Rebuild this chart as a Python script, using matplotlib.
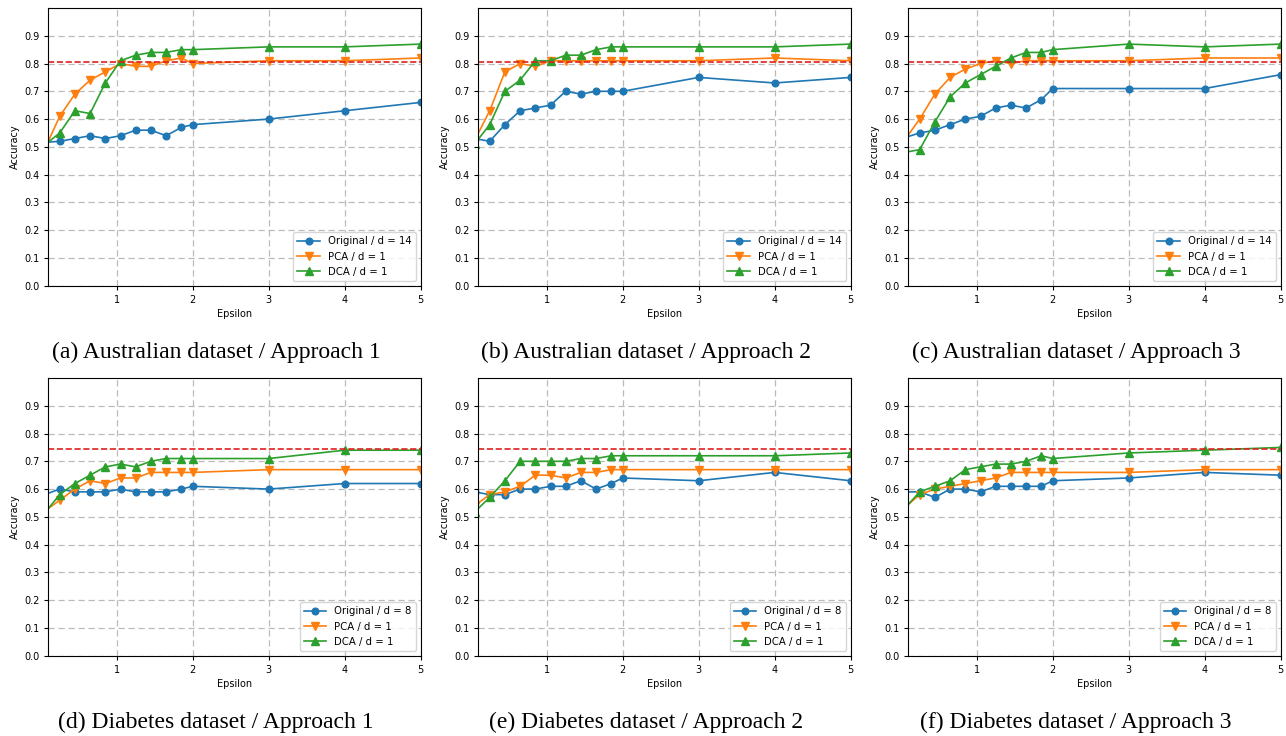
import matplotlib
matplotlib.use('Agg')
from matplotlib import pyplot as plt

# epsilon values (first one falls left of the visible x range)
eps = [0.05, 0.25, 0.45, 0.65, 0.85, 1.05, 1.25, 1.45, 1.65, 1.85, 2, 3, 4, 5]

# Australian dataset
aus1_orig = [0.516, 0.52, 0.53, 0.54, 0.53, 0.54, 0.56, 0.56, 0.54, 0.57, 0.58, 0.60, 0.63, 0.66]
aus1_pca = [0.49, 0.61, 0.69, 0.74, 0.77, 0.80, 0.79, 0.79, 0.81, 0.82, 0.80, 0.81, 0.81, 0.82]
aus1_dca = [0.506, 0.55, 0.63, 0.62, 0.73, 0.81, 0.83, 0.84, 0.84, 0.85, 0.85, 0.86, 0.86, 0.87]

aus2_orig = [0.53, 0.52, 0.58, 0.63, 0.64, 0.65, 0.70, 0.69, 0.70, 0.70, 0.70, 0.75, 0.73, 0.75]
aus2_pca = [0.522, 0.63, 0.77, 0.80, 0.79, 0.81, 0.81, 0.81, 0.81, 0.81, 0.81, 0.81, 0.82, 0.81]
aus2_dca = [0.51, 0.58, 0.70, 0.74, 0.81, 0.81, 0.83, 0.83, 0.85, 0.86, 0.86, 0.86, 0.86, 0.87]

aus3_orig = [0.533, 0.55, 0.56, 0.58, 0.60, 0.61, 0.64, 0.65, 0.64, 0.67, 0.71, 0.71, 0.71, 0.76]
aus3_pca = [0.524, 0.60, 0.69, 0.75, 0.78, 0.80, 0.81, 0.80, 0.81, 0.81, 0.81, 0.81, 0.82, 0.82]
aus3_dca = [0.48, 0.49, 0.59, 0.68, 0.73, 0.76, 0.79, 0.82, 0.84, 0.84, 0.85, 0.87, 0.86, 0.87]

# Diabetes dataset
dia1_orig = [0.58, 0.60, 0.59, 0.59, 0.59, 0.60, 0.59, 0.59, 0.59, 0.60, 0.61, 0.60, 0.62, 0.62]
dia1_pca = [0.52, 0.56, 0.60, 0.63, 0.62, 0.64, 0.64, 0.66, 0.66, 0.66, 0.66, 0.67, 0.67, 0.67]
dia1_dca = [0.513, 0.58, 0.62, 0.65, 0.68, 0.69, 0.68, 0.70, 0.71, 0.71, 0.71, 0.71, 0.74, 0.74]

dia2_orig = [0.59, 0.58, 0.58, 0.60, 0.60, 0.61, 0.61, 0.63, 0.60, 0.62, 0.64, 0.63, 0.66, 0.63]
dia2_pca = [0.54, 0.58, 0.59, 0.61, 0.65, 0.65, 0.64, 0.66, 0.66, 0.67, 0.67, 0.67, 0.67, 0.67]
dia2_dca = [0.517, 0.57, 0.63, 0.70, 0.70, 0.70, 0.70, 0.71, 0.71, 0.72, 0.72, 0.72, 0.72, 0.73]

dia3_orig = [0.59, 0.59, 0.57, 0.60, 0.60, 0.59, 0.61, 0.61, 0.61, 0.61, 0.63, 0.64, 0.66, 0.65]
dia3_pca = [0.533, 0.58, 0.60, 0.61, 0.62, 0.63, 0.64, 0.66, 0.66, 0.66, 0.66, 0.66, 0.67, 0.67]
dia3_dca = [0.53, 0.59, 0.61, 0.63, 0.67, 0.68, 0.69, 0.69, 0.70, 0.72, 0.71, 0.73, 0.74, 0.75]

# baseline accuracy (red dashed line)
aus_base = 0.805
dia_base = 0.745

captions = ['(a) Australian dataset / Approach 1', '(b) Australian dataset / Approach 2',
            '(c) Australian dataset / Approach 3', '(d) Diabetes dataset / Approach 1',
            '(e) Diabetes dataset / Approach 2', '(f) Diabetes dataset / Approach 3']

panels = [
    (aus1_orig, aus1_pca, aus1_dca, aus_base, 14),
    (aus2_orig, aus2_pca, aus2_dca, aus_base, 14),
    (aus3_orig, aus3_pca, aus3_dca, aus_base, 14),
    (dia1_orig, dia1_pca, dia1_dca, dia_base, 8),
    (dia2_orig, dia2_pca, dia2_dca, dia_base, 8),
    (dia3_orig, dia3_pca, dia3_dca, dia_base, 8),
]

W, H = 1286, 736
fig = plt.figure(figsize=(W / 100, H / 100), dpi=100)

lefts = [48.3, 478.3, 908.3]
bottoms = [285.7, 655.7]  # pixel row of y=0 from the top
ax_w, ax_h = 372.4, 277.7

for i, (orig, pca, dca, base, d) in enumerate(panels):
    row, col = i // 3, i % 3
    ax = fig.add_axes([lefts[col] / W, 1 - bottoms[row] / H, ax_w / W, ax_h / H])

    ax.plot(eps, orig, '-o', color='C0', lw=1.2, ms=4.8, label='Original / d = %d' % d)
    ax.plot(eps, pca, '-v', color='C1', lw=1.2, ms=5.2, label='PCA / d = 1')
    ax.plot(eps, dca, '-^', color='C2', lw=1.2, ms=5.2, label='DCA / d = 1')
    ax.axhline(base, color='#e0201c', ls='--', lw=1.2)

    ax.set_xlim(0.1, 5)
    ax.set_ylim(0, 1.0)
    ax.set_xticks([1, 2, 3, 4, 5])
    ax.set_yticks([0.0, 0.1, 0.2, 0.3, 0.4, 0.5, 0.6, 0.7, 0.8, 0.9])
    ax.tick_params(labelsize=7, length=3)
    ax.grid(True, ls=(0, (5, 3)), color='#bbbbbb', lw=0.9)
    ax.set_xlabel('Epsilon', fontsize=7, labelpad=3)
    ax.set_ylabel('Accuracy', fontsize=7, labelpad=3)
    ax.legend(loc='lower right', fontsize=7.3, handlelength=2.2)

    # caption under each subfigure
    fig.text((216 + col * 430) / W, 1 - (352 + row * 370) / H, captions[i],
             family='Liberation Serif', fontsize=17, ha='center', va='center')

fig.savefig('out.png', dpi=100)
